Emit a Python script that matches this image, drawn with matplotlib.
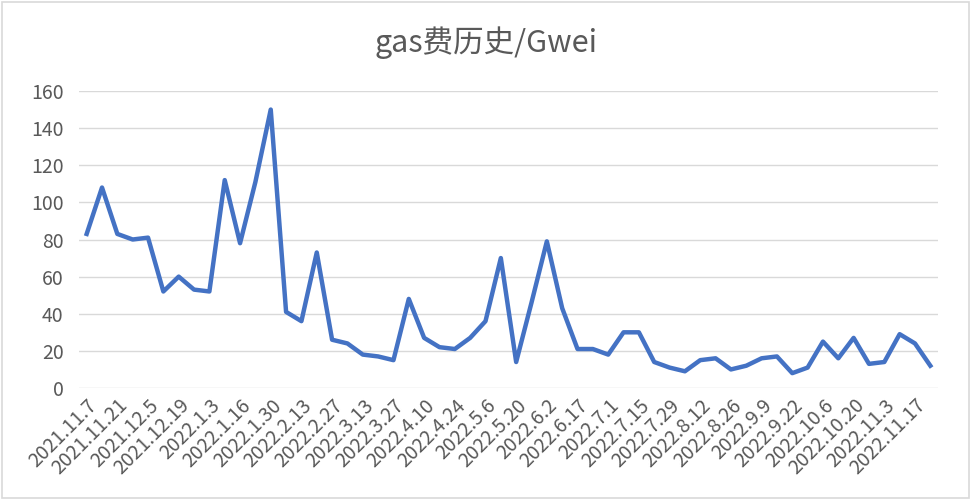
import matplotlib.pyplot as plt
from matplotlib.patches import Rectangle

plt.rcParams['font.family'] = ['Noto Sans CJK SC', 'DejaVu Sans']

# weekly dates (every other one is shown on the axis)
dates = ['2021.11.7', '2021.11.14', '2021.11.21', '2021.11.28', '2021.12.5', '2021.12.12',
         '2021.12.19', '2021.12.26', '2022.1.3', '2022.1.9', '2022.1.16', '2022.1.23',
         '2022.1.30', '2022.2.6', '2022.2.13', '2022.2.20', '2022.2.27', '2022.3.6',
         '2022.3.13', '2022.3.20', '2022.3.27', '2022.4.3', '2022.4.10', '2022.4.17',
         '2022.4.24', '2022.5.1', '2022.5.6', '2022.5.13', '2022.5.20', '2022.5.27',
         '2022.6.2', '2022.6.10', '2022.6.17', '2022.6.24', '2022.7.1', '2022.7.8',
         '2022.7.15', '2022.7.22', '2022.7.29', '2022.8.5', '2022.8.12', '2022.8.19',
         '2022.8.26', '2022.9.2', '2022.9.9', '2022.9.16', '2022.9.22', '2022.9.29',
         '2022.10.6', '2022.10.13', '2022.10.20', '2022.10.27', '2022.11.3', '2022.11.10',
         '2022.11.17', '2022.11.24']
gas = [83, 108, 83, 80, 81, 52, 60, 53, 52, 112, 78, 111, 150, 41, 36, 73, 26, 24, 18, 17,
       15, 48, 27, 22, 21, 27, 36, 70, 14, 46, 79, 43, 21, 21, 18, 30, 30, 14, 11, 9,
       15, 16, 10, 12, 16, 17, 8, 11, 25, 16, 27, 13, 14, 29, 24, 12]
yticks = [0, 20, 40, 60, 80, 100, 120, 140, 160]

fig = plt.figure(figsize=(9.72, 5.0), dpi=100)
ax = fig.add_axes([79 / 972, 112 / 500, (938 - 79) / 972, (388 - 91) / 500])

x = list(range(len(gas)))
ax.plot(x, gas, color='#4472C4', linewidth=3.2, solid_joinstyle='round', zorder=3)

ax.set_xlim(-0.5, len(gas) - 0.5)
ax.set_ylim(0, 160)
ax.set_yticks(yticks)
ax.grid(axis='y', color='#D9D9D9', linewidth=1)
ax.set_axisbelow(True)
ax.set_xticks(x[::2])
ax.set_xticklabels(dates[::2], rotation=45, ha='right', rotation_mode='anchor')
ax.tick_params(length=0, labelsize=14, labelcolor='#595959')
ax.tick_params(axis='y', pad=11)
ax.tick_params(axis='x', pad=5)
for s in ax.spines.values():
    s.set_visible(False)

fig.text(0.5, 0.915, 'gas费历史/Gwei', ha='center', va='center', fontsize=22, color='#595959')
fig.patches.append(Rectangle((0.002, 0.004), 0.995, 0.992, transform=fig.transFigure,
                             fill=False, edgecolor='#D9D9D9', linewidth=1.2))

plt.savefig('out.png', dpi=100)
